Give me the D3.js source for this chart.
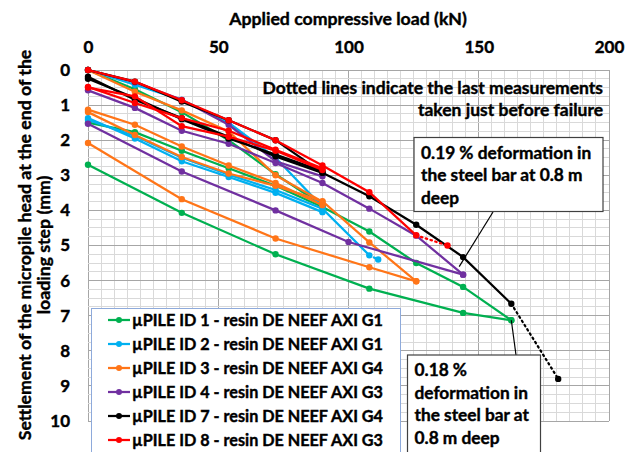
<!DOCTYPE html>
<html>
<head>
<meta charset="utf-8">
<script src="https://cdnjs.cloudflare.com/ajax/libs/d3/7.8.5/d3.min.js"></script>
<style>
  body { margin: 0; background: #fff; }
  svg { font-family: Lato, "Open Sans", sans-serif; font-weight: bold; }
  svg text { stroke: #000; stroke-width: 0.4px; }
  .grid line { shape-rendering: crispEdges; }
</style>
</head>
<body>
<script>
var width = 633,
    height = 452,
    pLeft = 88, pRight = 609, pTop = 70, pBottom = 421;

// each pile: list of loading cycles, each cycle a list of [load kN, settlement mm]
var pile1 = [
  [[0,0],[18,0.55],[36,1.2],[54,2.0],[72,2.97],[90,3.85]],
  [[0,1.5],[18,1.77],[36,2.3],[54,2.8],[72,3.3],[90,3.9],[108,4.6],[126,5.5],[144,6.18],[162.5,7.13]],
  [[0,2.7],[36,4.07],[72,5.25],[108,6.23],[144,6.92],[162.5,7.13]]
];
var pile2 = [
  [[0,0],[18,0.42],[36,0.85],[54,1.5],[72,2.5],[90,3.9]],
  [[0,1.37],[18,1.95],[36,2.6],[54,3.05],[72,3.5],[90,4.05]],
  [[0,1.42],[18,1.88],[36,2.5],[54,2.98],[72,3.42],[90,3.95],[108,5.28]]
];
var pile3 = [
  [[0,0],[18,0.62],[36,1.15],[54,1.75],[72,3.0],[90,3.75]],
  [[0,1.13],[18,1.56],[36,2.18],[54,2.72],[72,3.22],[90,3.85]],
  [[0,1.2],[18,1.85],[36,2.48],[54,2.95],[72,3.3],[90,3.74],[108,4.91],[126,6.02]],
  [[0,2.08],[36,3.68],[72,4.8],[108,5.62],[126,6.02]]
];
var pile4 = [
  [[0,0],[18,0.35],[36,0.85],[54,1.56],[72,2.6],[90,3.03]],
  [[0,0.58],[18,1.08],[36,1.73],[54,2.1],[72,2.65],[90,3.22],[108,3.95],[126,4.72],[144,5.83]],
  [[0,1.53],[36,2.89],[72,4.0],[100,4.9],[144,5.83]]
];
var pile7 = [
  [[0,0],[18,0.33],[36,0.9],[54,1.43],[72,2.0],[90,2.93]],
  [[0,0.25],[18,0.8],[36,1.4],[54,1.95],[72,2.41],[90,2.88]],
  [[0,0.19],[18,0.85],[36,1.37],[54,1.9],[72,2.46],[90,2.93],[108,3.6],[126,4.41],[144,5.33],[162.5,6.66]]
];
var pile8 = [
  [[0,0],[18,0.33],[36,0.86],[54,1.43],[72,2.0],[90,2.72],[108,3.48],[126,4.71]],
  [[0,0.48],[18,0.94],[36,1.37],[54,1.73],[72,2.27],[90,2.8]],
  [[0,0.5],[18,0.75],[36,1.6],[54,1.9],[72,2.3],[90,2.85]]
];
// last measurements just before failure (dotted)
var fail2 = [[108,5.28],[111.4,5.4]];
var fail7 = [[162.5,6.66],[180.5,8.8]];
var fail8 = [[126,4.71],[138,5.0]];

var names = ["µPILE ID 1 - resin DE NEEF AXI G1", "µPILE ID 2 - resin DE NEEF AXI G1",
             "µPILE ID 3 - resin DE NEEF AXI G4", "µPILE ID 4 - resin DE NEEF AXI G3",
             "µPILE ID 7 - resin DE NEEF AXI G4", "µPILE ID 8 - resin DE NEEF AXI G3"];
var colors = ["#00b050", "#00b0f0", "#ff7518", "#7030a0", "#000000", "#ff0000"];
var piles = [pile1, pile2, pile3, pile4, pile7, pile8];
var fails = [null, fail2, null, null, fail7, fail8];

var xTicks = [0, 50, 100, 150, 200];
var yTicks = [0, 1, 2, 3, 4, 5, 6, 7, 8, 9, 10];

var xSc = d3.scaleLinear().domain([0, 200]).range([pLeft, pRight]),
    ySc = d3.scaleLinear().domain([0, 10]).range([pTop, pBottom]);

var svg = d3.select("body").append("svg")
  .attr("width", width)
  .attr("height", height);

// grid
var grid = svg.append("g").attr("class", "grid");
grid.selectAll("line.v")
  .data(d3.range(0, 201, 5))
  .enter().append("line")
    .attr("x1", function(d) { return xSc(d); })
    .attr("x2", function(d) { return xSc(d); })
    .attr("y1", pTop).attr("y2", pBottom)
    .style("stroke", function(d) { return d % 50 == 0 ? "#a6a6a6" : "#d9d9d9"; });
grid.selectAll("line.h")
  .data(d3.range(0, 41).map(function(i) { return i / 4; }))
  .enter().append("line")
    .attr("y1", function(d) { return ySc(d); })
    .attr("y2", function(d) { return ySc(d); })
    .attr("x1", pLeft).attr("x2", pRight)
    .style("stroke", function(d) { return d % 1 == 0 ? "#a6a6a6" : "#d9d9d9"; });

// axes
var xAxis = d3.axisTop(xSc).tickValues(xTicks).tickSize(0).tickPadding(17);
var yAxis = d3.axisLeft(ySc).tickValues(yTicks).tickSize(0).tickPadding(18);

svg.append("g")
  .attr("transform", "translate(0," + pTop + ")")
  .call(xAxis)
  .call(function(g) { g.select(".domain").remove(); })
  .selectAll("text")
    .style("font-size", "17px").style("font-family", "Lato").style("font-weight", "bold").attr("fill", "#000");

svg.append("g")
  .attr("transform", "translate(" + pLeft + ",0)")
  .call(yAxis)
  .call(function(g) { g.select(".domain").remove(); })
  .selectAll("text")
    .style("font-size", "17px").style("font-family", "Lato").style("font-weight", "bold").attr("fill", "#000");

svg.append("text")
  .attr("x", 348).attr("y", 25)
  .attr("text-anchor", "middle")
  .style("font-size", "17.7px")
  .text("Applied compressive load (kN)");

svg.append("text")
  .attr("transform", "translate(31,245) rotate(-90)")
  .attr("text-anchor", "middle")
  .style("font-size", "17.7px")
  .text("Settlement of the micropile head at the end of the");
svg.append("text")
  .attr("transform", "translate(50,245) rotate(-90)")
  .attr("text-anchor", "middle")
  .style("font-size", "17.7px")
  .text("loading step (mm)");

// series
var line = d3.line()
  .x(function(d) { return xSc(d[0]); })
  .y(function(d) { return ySc(d[1]); });

piles.forEach(function(pile, i) {
  var g = svg.append("g");
  g.selectAll("path")
    .data(pile)
    .enter().append("path")
      .attr("d", line)
      .style("fill", "none")
      .style("stroke", colors[i])
      .style("stroke-width", 2.25);
  if (fails[i]) {
    g.append("path")
      .attr("d", line(fails[i]))
      .style("fill", "none")
      .style("stroke", colors[i])
      .style("stroke-width", 2.25)
      .style("stroke-dasharray", "1.5,3.5")
      .style("stroke-linecap", "round");
    g.append("circle")
      .attr("cx", xSc(fails[i][1][0]))
      .attr("cy", ySc(fails[i][1][1]))
      .attr("r", 3.2)
      .style("fill", colors[i]);
  }
  g.selectAll("circle.pt")
    .data(d3.merge(pile))
    .enter().append("circle")
      .attr("class", "pt")
      .attr("cx", function(d) { return xSc(d[0]); })
      .attr("cy", function(d) { return ySc(d[1]); })
      .attr("r", 3.2)
      .style("fill", colors[i]);
});

// note
svg.append("text")
  .attr("x", 603).attr("y", 94)
  .attr("text-anchor", "end")
  .style("font-size", "17.5px")
  .text("Dotted lines indicate the last measurements");
svg.append("text")
  .attr("x", 603).attr("y", 116)
  .attr("text-anchor", "end")
  .style("font-size", "17.5px")
  .text("taken just before failure");

// callouts
function callout(x, y, w, h, lines, tip, from) {
  svg.append("line")
    .attr("x1", from[0]).attr("y1", from[1])
    .attr("x2", xSc(tip[0])).attr("y2", ySc(tip[1]))
    .style("stroke", "#000").style("stroke-width", 1.2);
  svg.append("rect")
    .attr("x", x).attr("y", y).attr("width", w).attr("height", h)
    .style("fill", "#fff").style("stroke", "#404040").style("stroke-width", 1.2);
  svg.selectAll(null)
    .data(lines)
    .enter().append("text")
      .attr("x", x + 7)
      .attr("y", function(d, j) { return y + 21 + j * 22.5; })
      .style("font-size", "17.3px")
      .text(function(d) { return d; });
}
callout(414, 137.5, 189, 74, ["0.19 % deformation in", "the steel bar at 0.8 m", "deep"], [142.5, 5.6], [493, 212]);
callout(407.5, 355, 133, 110, ["0.18 %", "deformation in", "the steel bar at", "0.8 m deep"], [162.5, 7.13], [516, 355]);

// legend
var leg = svg.append("g");
leg.append("rect")
  .attr("x", 91.5).attr("y", 308.5).attr("width", 309).attr("height", 160)
  .style("fill", "#fff").style("stroke", "#8eaadb").style("stroke-width", 1);
var rows = leg.selectAll("g.row")
  .data(names)
  .enter().append("g")
    .attr("class", "row")
    .attr("transform", function(d, i) { return "translate(0," + (320 + i * 24) + ")"; });
rows.append("line")
  .attr("x1", 108).attr("x2", 130)
  .style("stroke", function(d, i) { return colors[i]; })
  .style("stroke-width", 2.25);
rows.append("circle")
  .attr("cx", 119).attr("r", 3)
  .style("fill", function(d, i) { return colors[i]; });
rows.append("text")
  .attr("x", 132).attr("y", 6)
  .style("font-size", "16.2px")
  .text(function(d) { return d; });
</script>
</body>
</html>
